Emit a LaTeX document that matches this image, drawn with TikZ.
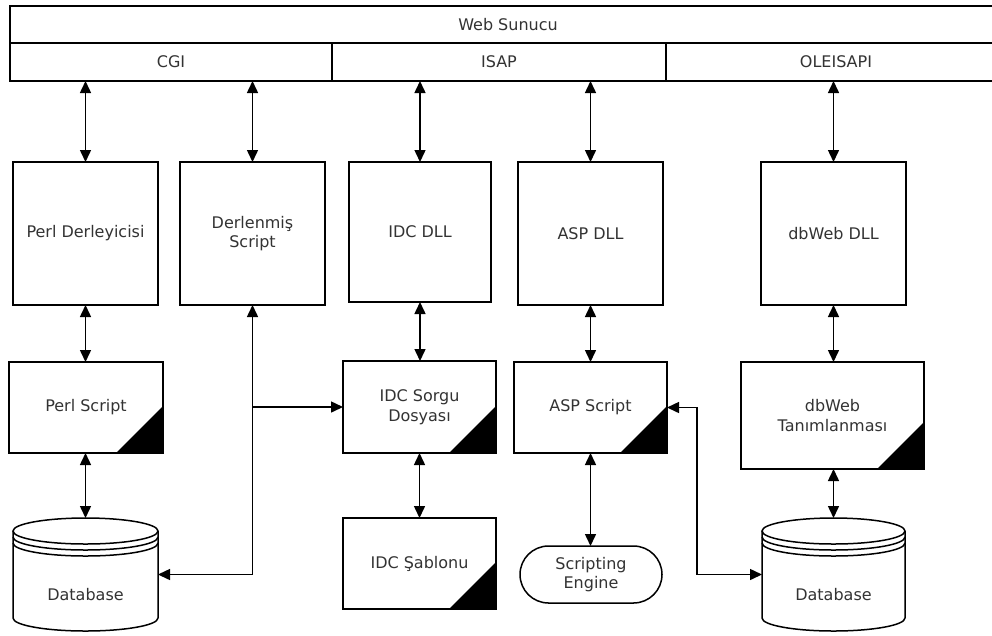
\documentclass[tikz,border=0pt]{standalone}
\usepackage{fontspec}
\setmainfont{DejaVu Sans}
\usetikzlibrary{arrows.meta,calc}
\definecolor{txtgray}{HTML}{333333}

% Cylinder outline with a triple rim, fitted to a named (undrawn) node
\newcommand\dbshape[2]{%
  \draw[line width=1.5pt, fill=white]
    ([yshift=-13pt]#1.north west) -- ([yshift=13pt]#1.south west)
    arc[start angle=180, end angle=360, x radius=#2, y radius=13pt]
    -- ([yshift=-13pt]#1.north east);
  \draw[line width=1.5pt] ([yshift=-13pt]#1.north) ellipse[x radius=#2, y radius=13pt];
  \draw[line width=1.5pt] ([yshift=-19pt]#1.north west)
    arc[start angle=180, end angle=360, x radius=#2, y radius=13pt];
  \draw[line width=1.5pt] ([yshift=-25pt]#1.north west)
    arc[start angle=180, end angle=360, x radius=#2, y radius=13pt];
}

\begin{document}
\begin{tikzpicture}[x=1pt, y=-1pt,
  every node/.style={font=\fontsize{16}{19.5}\selectfont, text=txtgray, align=center},
  box/.style={draw=black, line width=1.5pt, fill=white, inner sep=0pt, outer sep=0pt},
  hdr/.style={box},
  docbox/.style={box, path picture={
      \fill[black] (path picture bounding box.south east) -- ++(-47pt,0pt)
        -- ++(47pt,47pt) -- cycle;}},
  stadium/.style={box, rounded corners=28.5pt},
  dbnode/.style={inner sep=0pt, outer sep=0pt},
  tip/.tip={Triangle[length=12pt, width=11pt]},
  conn/.style={line width=1.5pt, tip-tip},
  oneway/.style={line width=1.5pt, -tip}]

\useasboundingbox (0,0) rectangle (992,635);

% Web server header with its three interfaces
\node[hdr, minimum width=996pt, minimum height=37pt] (web) at (508,24.5) {Web Sunucu};
\node[hdr, minimum width=322pt, minimum height=38pt] (cgi) at (171,62) {CGI};
\node[hdr, minimum width=334pt, minimum height=38pt] (isap) at (499,62) {ISAP};
\node[hdr, minimum width=340pt, minimum height=38pt] (ole) at (836,62) {OLEISAPI};

% Processing components
\node[box, minimum width=145pt, minimum height=143pt] (pd) at (85.5,233.5) {Perl Derleyicisi};
\node[box, minimum width=145pt, minimum height=143pt] (ds) at (252.5,233.5) {Derlenmiş\\Script};
\node[box, minimum width=142pt, minimum height=140pt] (idll) at (420,232) {IDC DLL};
\node[box, minimum width=145pt, minimum height=143pt] (adll) at (590.5,233.5) {ASP DLL};
\node[box, minimum width=145pt, minimum height=143pt] (wdll) at (833.5,233.5) {dbWeb DLL};

% Script and definition documents
\node[docbox, minimum width=154pt, minimum height=91pt] (ps) at (86,407.5) {Perl Script};
\node[docbox, minimum width=153pt, minimum height=92pt] (isd) at (419.5,407) {IDC Sorgu\\Dosyası};
\node[docbox, minimum width=153pt, minimum height=91pt] (asc) at (590.5,407.5) {ASP Script};
\node[docbox, minimum width=183pt, minimum height=107pt] (wdef) at (832.5,415.5) {dbWeb\\Tanımlanması};
\node[docbox, minimum width=153pt, minimum height=91pt] (isab) at (419.5,563.5) {IDC Şablonu};
\node[stadium, minimum width=142pt, minimum height=57pt] (se) at (591,574.5) {Scripting\\Engine};

% Databases
\node[dbnode, minimum width=145pt, minimum height=113pt] (dbL) at (85.5,574.5) {};
\node[dbnode, minimum width=143pt, minimum height=113pt] (dbR) at (833.5,574.5) {};
\dbshape{dbL}{72.5pt}
\dbshape{dbR}{71.5pt}
\node (dbLtxt) at ([yshift=-20pt]dbL.center) {Database};
\node (dbRtxt) at ([yshift=-20pt]dbR.center) {Database};

% Links from the server interfaces
\draw[conn] (pd.north |- cgi.south) -- (pd.north);
\draw[conn] (ds.north |- cgi.south) -- (ds.north);
\draw[conn] (idll.north |- isap.south) -- (idll.north);
\draw[conn] (adll.north |- isap.south) -- (adll.north);
\draw[conn] (wdll.north |- ole.south) -- (wdll.north);

% Vertical links between components
\draw[conn] (pd.south) -- (pd.south |- ps.north);
\draw[conn] (pd.south |- ps.south) -- (pd.south |- dbL.north);
\draw[conn] (idll.south) -- (idll.south |- isd.north);
\draw[conn] (isd.south) -- (isab.north);
\draw[conn] (adll.south) -- (adll.south |- asc.north);
\draw[conn] (adll.south |- asc.south) -- (adll.south |- se.north);
\draw[conn] (wdll.south) -- (wdll.south |- wdef.north);
\draw[conn] (dbR.north |- wdef.south) -- (dbR.north);

% Compiled script to the database and to the IDC query file
\coordinate (br) at (ds.south |- isd.west);
\draw[conn] (ds.south) -- (ds.south |- dbL.east) -- (dbL.east);
\draw[oneway] (br) -- (isd.west);

% ASP script to the dbWeb database
\coordinate (aspturn) at (697,407.5);
\draw[conn] (asc.east) -- (aspturn) -- (aspturn |- dbR.west) -- (dbR.west);

\end{tikzpicture}
\end{document}
